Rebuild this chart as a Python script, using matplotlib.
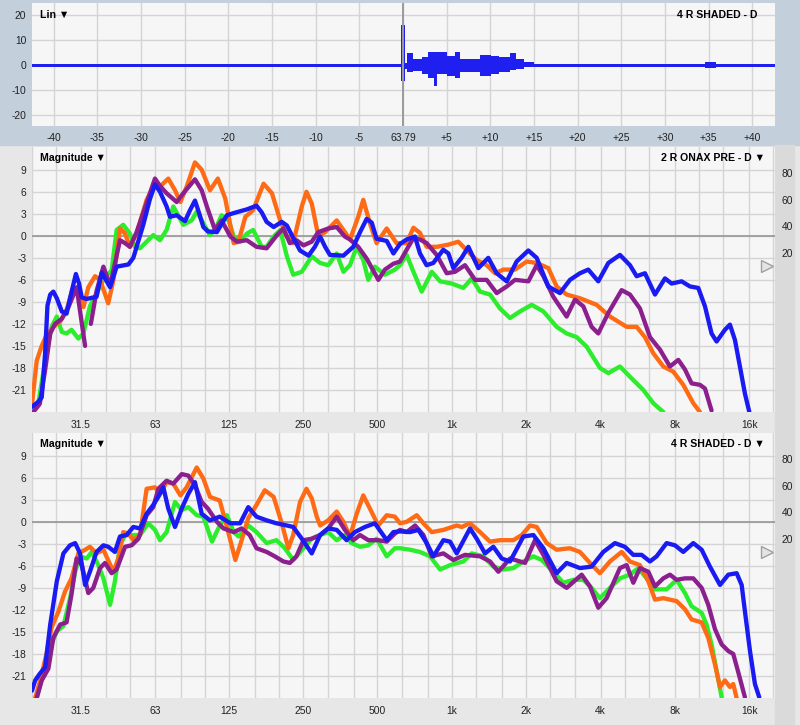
"""
Room measurement view: impulse response on top, two magnitude
responses (2 R ONAX PRE and 4 R SHADED) below, four mic positions each.
"""

import numpy as np
import matplotlib
matplotlib.use('Agg')
import matplotlib.pyplot as plt
from matplotlib.patches import Rectangle
from matplotlib.ticker import NullFormatter

plt.rcParams['font.family'] = ['Liberation Sans', 'DejaVu Sans']
plt.rcParams['axes.unicode_minus'] = False

# ---------------- impulse response (ms relative to 63.79 ms) ----------------
ir_edges = [-42.5, -0.25, 0.2, 0.45, 1.15, 2.2, 2.9, 3.5, 3.9, 5.0, 6.0, 6.5,
            8.8, 10.1, 11.0, 12.3, 12.9, 13.8, 15.0, 34.6, 35.8, 42.6]
ir_hi = [0.6, 16.0, 1.0, 4.8, 2.4, 3.0, 5.0, 5.0, 5.3, 3.7, 5.0, 2.4,
         4.0, 3.5, 3.0, 4.7, 2.2, 1.2, 0.6, 1.3, 0.6]
ir_lo = [-0.6, -6.3, -1.5, -2.9, -2.3, -3.6, -5.0, -8.3, -3.6, -4.3, -5.0, -2.9,
         -4.3, -3.6, -2.6, -2.0, -1.6, -0.9, -0.6, -1.2, -0.6]
time_ticks = [-40, -35, -30, -25, -20, -15, -10, -5, 0,
              5, 10, 15, 20, 25, 30, 35, 40]
time_labels = ['-40', '-35', '-30', '-25', '-20', '-15', '-10', '-5', '63.79',
               '+5', '+10', '+15', '+20', '+25', '+30', '+35', '+40']
ir_yticks = [-20, -10, 0, 10, 20]

# ---------------- frequency axis ----------------
third_oct = [20, 25, 31.5, 40, 50, 63, 80, 100, 125, 160, 200, 250, 315, 400,
             500, 630, 800, 1000, 1250, 1600, 2000, 2500, 3150, 4000, 5000,
             6300, 8000, 10000, 12500, 16000, 20000]
oct_ticks = [31.5, 63, 125, 250, 500, 1000, 2000, 4000, 8000, 16000]
oct_labels = ['31.5', '63', '125', '250', '500', '1k', '2k', '4k', '8k', '16k']
db_ticks = [9, 6, 3, 0, -3, -6, -9, -12, -15, -18, -21]
right_ticks = [20, 40, 60, 80]

# ---------------- 2 R ONAX PRE ----------------
onax_blue_f = [20, 21.2, 21.9, 22.6, 23.1, 23.7, 24.4, 25.2, 26.4, 27.6, 28.5,
               30.1, 31.0, 31.8, 33.3, 36.5, 38.3, 41.4, 44.0, 49.1, 51.4, 56.4,
               60.0, 62.9, 65.9, 70.1, 72.3, 77.0, 83.2, 87.2, 91.3, 95.1, 98.7,
               103, 112, 117, 123, 131, 148, 162, 170, 178, 190, 205, 215, 225,
               243, 263, 279, 293, 307, 321, 364, 399, 425, 452, 474, 496, 545,
               580, 617, 656, 709, 743, 790, 841, 923, 968, 1014, 1095, 1166,
               1280, 1404, 1518, 1667, 1828, 2039, 2204, 2455, 2737, 3005, 3297,
               3564, 3912, 4296, 4787, 5255, 5593, 6043, 6636, 7282, 7748, 8503,
               9196, 9933, 10570, 11240, 11780, 12730, 13340, 13980, 14640,
               15340, 15980]
onax_blue_db = [-23.3, -22.6, -22.0, -16.0, -9.5, -8.0, -7.6, -8.5, -10.3, -10.6,
                -8.5, -5.2, -6.5, -8.4, -8.6, -8.3, -5.0, -7.0, -4.2, -3.9, -3.0,
                1.5, 5.0, 7.0, 6.0, 4.0, 2.6, 2.8, 2.0, 3.5, 4.8, 3.0, 1.2, 0.6,
                0.5, 1.6, 2.8, 3.1, 3.6, 4.1, 3.2, 1.9, 1.2, 1.9, 1.4, 0.1, -2.0,
                -2.7, -1.5, -0.1, -1.5, -2.6, -2.7, -1.5, 0.5, 2.3, 1.8, -0.4,
                -0.7, -2.4, -1.1, -0.5, -0.1, -2.4, -4.0, -3.7, -1.9, -2.4, -4.4,
                -3.0, -1.5, -4.4, -3.0, -5.1, -6.2, -3.5, -2.0, -3.0, -6.9, -7.8,
                -6.0, -5.1, -4.6, -6.2, -3.7, -2.6, -4.0, -5.5, -5.1, -8.0, -5.8,
                -6.5, -6.2, -6.9, -7.1, -9.6, -13.3, -14.4, -12.8, -12.1, -14.2,
                -17.8, -21.5, -24.0]

onax_orange_f = [20, 20.9, 21.9, 22.9, 24.4, 26.0, 27.6, 29.4, 30.8, 32.3, 33.8,
                 36.0, 37.7, 40.7, 42.7, 45.4, 47.6, 49.8, 53.0, 58.2, 62.9, 65.9,
                 71.2, 75.8, 79.7, 84.5, 91.3, 97.2, 105, 113, 121, 131, 137, 146,
                 157, 173, 187, 202, 215, 228, 247, 258, 271, 288, 307, 342, 364,
                 387, 418, 438, 466, 496, 545, 597, 656, 699, 743, 791, 868, 968,
                 1062, 1166, 1260, 1383, 1495, 1616, 1801, 2008, 2204, 2457, 2654,
                 2913, 3297, 3852, 4362, 5095, 5593, 6043, 6532, 7170, 7868, 8636,
                 9479, 10090]
onax_orange_db = [-22.9, -17.0, -15.0, -13.5, -12.4, -11.7, -10.1, -7.0, -7.9,
                  -9.7, -7.0, -5.5, -6.0, -9.2, -6.0, 1.0, 0.3, -1.5, 0.3, 4.9,
                  7.1, 6.7, 7.8, 6.2, 4.6, 6.7, 10.0, 9.0, 6.2, 7.8, 5.1, -1.0,
                  -0.8, 2.6, 3.5, 7.1, 5.8, 2.1, -0.1, -1.0, 4.0, 6.0, 4.4, 0.0,
                  0.5, 2.1, 0.8, -0.5, 2.6, 4.9, 1.7, -1.0, 1.0, -1.0, -1.0, 1.1,
                  0.4, -1.5, -1.5, -1.2, -0.8, -2.2, -3.3, -4.0, -5.1, -4.6, -4.6,
                  -3.5, -3.7, -4.4, -6.9, -8.0, -8.5, -9.4, -11.0, -12.4, -12.4,
                  -13.8, -16.0, -17.8, -18.5, -20.3, -22.8, -24.0]

onax_purple_f = [20.25, 21.5, 22.6, 23.7, 24.8, 26.4, 28.1, 30.3, 32.8, 33.7,
                 34.6, 36.5, 38.9, 41.4, 45.4, 47.6, 49.8, 53.0, 58.2, 62.9, 65.9,
                 70.1, 77.0, 81.9, 91.3, 97.2, 102, 110, 117, 127, 135, 148, 162,
                 178, 195, 208, 221, 235, 251, 271, 288, 316, 342, 369, 387, 418,
                 452, 504, 536, 580, 617, 656, 699, 743, 791, 868, 953, 1030,
                 1130, 1241, 1383, 1518, 1667, 1801, 2040, 2204, 2346, 2573, 2913,
                 3148, 3402, 3677, 3912, 4296, 4863, 5255, 5768, 6332, 6950, 7628,
                 8245, 8771, 9333, 10090, 10570, 11240]
onax_purple_db = [-24.0, -22.9, -18.3, -13.3, -12.0, -11.3, -9.7, -7.0, -15.0,
                  np.nan, -12.0, -7.5, -4.2, -6.8, -0.6, -1.0, -1.5, 0.5, 4.5,
                  7.8, 6.8, 5.8, 4.6, 5.8, 7.7, 6.2, 4.0, 0.8, 2.1, -0.1, -0.8,
                  -0.6, -1.5, -1.7, 0.0, 1.0, -1.0, -0.6, -1.3, -0.8, 0.5, 1.0,
                  1.2, -0.1, -0.5, -1.5, -3.1, -6.0, -4.6, -3.8, -3.5, -1.9, -0.3,
                  -0.5, -1.0, -2.6, -5.1, -4.9, -4.0, -6.0, -6.0, -7.8, -6.9,
                  -6.0, -6.2, -4.0, -5.5, -8.3, -11.0, -8.7, -9.6, -12.4, -13.3,
                  -10.5, -7.4, -8.0, -9.9, -13.8, -15.5, -17.8, -16.9, -18.2,
                  -20.1, -20.3, -20.8, -23.8]

onax_green_f = [20.25, 21.2, 22.9, 24.0, 25.2, 26.4, 27.6, 28.9, 30.8, 32.3,
                34.3, 36.5, 38.9, 42.0, 44.0, 46.8, 49.8, 52.2, 54.7, 58.2, 61.9,
                65.9, 70.1, 74.6, 81.9, 88.5, 92.8, 98.7, 105, 110, 117, 125, 131,
                139, 148, 157, 170, 178, 190, 202, 215, 228, 247, 271, 293, 316,
                342, 364, 387, 412, 438, 459, 488, 536, 588, 617, 656, 699, 755,
                829, 896, 998, 1113, 1203, 1300, 1427, 1566, 1719, 1887, 2104,
                2346, 2654, 2913, 3198, 3509, 3973, 4296, 4787, 5255, 5951, 6532,
                7170]
onax_green_db = [-24.0, -22.8, -16.0, -12.4, -11.0, -13.1, -13.3, -12.8, -14.0,
                 -13.3, -9.6, -7.8, -6.0, -4.7, 0.8, 1.5, 0.3, -1.5, -1.7, -0.8,
                 0.1, -0.6, 0.8, 4.0, 1.5, 2.1, 3.3, 1.7, 0.1, 0.8, 2.8, 2.1,
                 -0.1, -0.8, 0.3, 0.8, -1.5, -1.5, -0.1, 0.8, -2.8, -5.3, -4.9,
                 -2.8, -3.7, -4.0, -2.4, -4.9, -4.0, -1.5, -3.3, -6.0, -4.2, -5.3,
                 -4.6, -4.0, -2.6, -4.9, -7.6, -4.9, -6.2, -6.5, -7.1, -5.8, -7.6,
                 -8.0, -9.9, -11.2, -10.3, -9.4, -10.3, -12.4, -13.3, -13.8,
                 -15.1, -18.0, -18.7, -17.8, -19.2, -21.0, -22.8, -24.0]

# ---------------- 4 R SHADED ----------------
shaded_blue_f = [20, 20.6, 21.5, 22.6, 23.7, 25.2, 26.8, 28.5, 29.9, 31.3, 32.8,
                 34.3, 36.5, 38.9, 40.7, 43.3, 45.4, 48.3, 51.4, 54.7, 58.2, 61.9,
                 64.9, 68.0, 71.2, 75.8, 80.7, 85.8, 91.3, 97.2, 105, 115, 127,
                 139, 150, 162, 178, 195, 215, 228, 247, 271, 293, 316, 342, 375,
                 405, 445, 488, 545, 580, 617, 677, 732, 791, 842, 924, 983, 1046,
                 1184, 1260, 1362, 1472, 1591, 1719, 1947, 2137, 2346, 2654, 2913,
                 3297, 3677, 4100, 4570, 5013, 5421, 5858, 6332, 6737, 7395, 7992,
                 8636, 9479, 10250, 11070, 12160, 13140, 14200, 14880, 15340,
                 16080, 16840, 17530]
shaded_blue_db = [-23.0, -21.6, -20.7, -19.8, -14.0, -8.1, -4.3, -3.2, -2.9, -4.3,
                  -8.6, -6.8, -4.1, -3.2, -3.4, -4.1, -2.0, -1.8, -0.7, -0.9, 1.1,
                  2.3, 3.4, 4.7, 1.8, -0.7, 1.8, 3.8, 5.4, 1.1, 0.2, 0.7, -0.2,
                  -0.2, 2.0, 0.7, 0.2, -0.2, -0.5, -0.7, -2.3, -4.3, -1.8, -0.9,
                  -1.1, -2.5, -1.4, -0.7, -0.2, -2.5, -1.4, -1.3, -1.4, -1.1, -2.9,
                  -4.7, -2.5, -2.7, -4.3, -0.9, -2.3, -4.3, -3.4, -5.0, -5.4, -2.0,
                  -1.8, -3.6, -7.0, -5.6, -6.3, -6.1, -4.1, -2.9, -3.4, -4.5, -4.5,
                  -5.4, -4.7, -2.9, -3.2, -4.1, -2.9, -3.8, -6.1, -8.6, -7.2, -7.0,
                  -8.6, -12.2, -17.6, -22.1, -23.9]

shaded_orange_f = [20.6, 21.5, 22.9, 24.0, 25.6, 27.2, 28.9, 30.8, 32.8, 34.3,
                   36.5, 38.9, 42.7, 44.7, 46.8, 49.1, 51.4, 54.7, 58.2, 62.9,
                   65.9, 70.1, 74.6, 79.7, 84.5, 92.8, 98.7, 105, 115, 123, 133,
                   139, 150, 162, 175, 190, 205, 218, 228, 243, 258, 271, 284, 293,
                   316, 342, 364, 387, 412, 438, 466, 504, 545, 588, 617, 656, 721,
                   767, 829, 924, 1046, 1096, 1184, 1300, 1427, 1566, 1774, 1917,
                   2072, 2204, 2420, 2654, 3005, 3297, 3620, 3973, 4362, 4863, 5255,
                   5768, 6236, 6636, 7170, 8115, 8771, 9333, 10250, 10900, 11600,
                   12160, 12730, 13340, 13760, 14200]
shaded_orange_db = [-24.0, -21.8, -18.0, -14.4, -12.2, -9.5, -7.7, -4.3, -3.8,
                    -3.4, -4.3, -3.8, -6.8, -5.0, -1.4, -1.6, -2.5, -1.8, 4.5, 4.7,
                    3.8, 5.4, 5.2, 3.6, 4.7, 7.4, 5.9, 3.4, 2.9, -0.7, -5.2, -3.2,
                    0.5, 2.3, 4.3, 3.4, -0.2, -3.6, -1.8, 2.7, 4.5, 3.2, 0.7, -0.5,
                    0.2, 1.4, 0.0, -2.0, 1.1, 3.6, 1.8, -0.5, 0.9, 0.7, -0.2, 0.0,
                    0.9, -0.2, -1.4, -1.1, -0.5, -0.7, -0.2, -1.4, -2.7, -2.5, -2.5,
                    -1.8, -0.5, -0.7, -2.9, -3.8, -3.6, -4.1, -5.6, -7.0, -5.4,
                    -4.1, -5.4, -5.9, -8.1, -10.6, -10.4, -10.8, -11.9, -13.3,
                    -13.7, -15.8, -19.4, -22.5, -21.6, -22.5, -22.1, -24.0]

shaded_purple_f = [20.9, 21.9, 23.3, 24.4, 26.0, 27.6, 28.9, 30.3, 31.8, 33.8,
                   35.4, 37.7, 39.5, 42.0, 44.0, 47.6, 50.6, 53.9, 58.2, 61.9,
                   64.9, 70.1, 74.6, 80.7, 85.8, 91.3, 97.2, 103, 112, 119, 131,
                   141, 152, 162, 178, 192, 208, 221, 235, 251, 271, 293, 316, 342,
                   369, 399, 425, 459, 504, 545, 588, 617, 656, 710, 767, 829, 924,
                   1014, 1130, 1300, 1427, 1542, 1719, 1977, 2170, 2346, 2654, 2913,
                   3351, 3620, 3912, 4228, 4787, 5095, 5421, 5768, 6236, 6636, 7170,
                   7628, 8115, 8771, 9479, 10250, 10900, 11600, 12350, 13140, 13760,
                   14420, 15340]
shaded_purple_db = [-24.0, -21.6, -20.0, -15.8, -14.0, -13.7, -9.9, -5.0, -5.9,
                    -9.7, -9.0, -6.3, -5.6, -7.0, -6.5, -3.4, -3.2, -2.3, 0.9, 2.0,
                    4.5, 5.6, 5.2, 6.5, 6.3, 5.0, 2.7, 1.8, 0.0, -0.9, -1.4, -0.9,
                    -1.8, -3.6, -4.1, -4.7, -5.4, -5.6, -4.7, -2.5, -2.3, -1.8,
                    -0.9, 0.7, -1.1, -2.5, -1.8, -2.5, -2.5, -2.7, -1.6, -1.1, -1.4,
                    -0.5, -1.8, -4.7, -4.3, -5.2, -4.5, -4.7, -5.4, -6.8, -5.0, -5.6,
                    -2.5, -4.5, -8.1, -9.0, -7.2, -8.8, -11.7, -10.4, -6.3, -5.9,
                    -8.3, -6.3, -6.8, -8.8, -7.7, -7.2, -7.9, -7.7, -7.7, -9.0,
                    -11.3, -14.6, -16.7, -17.6, -18.0, -20.5, -23.9]

shaded_green_f = [20.9, 22.2, 23.7, 25.2, 26.8, 28.5, 29.9, 31.3, 33.3, 34.9,
                  37.1, 38.9, 41.4, 43.3, 45.4, 47.6, 50.6, 54.7, 59.1, 62.9, 65.9,
                  70.1, 75.8, 80.7, 85.8, 92.8, 98.7, 107, 115, 123, 131, 137, 150,
                  162, 178, 195, 211, 228, 251, 271, 293, 316, 342, 369, 393, 425,
                  459, 496, 545, 588, 617, 677, 743, 816, 896, 983, 1113, 1203,
                  1341, 1472, 1616, 1774, 1947, 2137, 2309, 2573, 2824, 3100, 3402,
                  3677, 3973, 4362, 4787, 5255, 5680, 6138, 6636, 7395, 8115, 8771,
                  9333, 10250, 10730, 11240, 11780, 12350]
shaded_green_db = [-24.0, -20.7, -17.1, -14.9, -14.2, -10.4, -6.8, -4.7, -5.0,
                   -4.1, -5.9, -7.7, -11.3, -8.1, -3.2, -1.8, -1.8, -1.8, -0.2,
                   -1.1, -2.5, -1.4, 2.7, 1.6, 2.0, 0.9, 0.7, -2.7, -0.5, 0.9,
                   -1.4, -2.0, -0.5, -1.4, -2.9, -2.5, -3.6, -5.2, -3.6, -2.3, -1.8,
                   -1.4, -2.5, -1.8, -2.9, -3.4, -3.2, -2.3, -4.7, -3.6, -3.6, -3.8,
                   -4.1, -4.7, -6.5, -5.9, -5.4, -4.3, -4.7, -6.1, -6.5, -6.3, -5.4,
                   -4.7, -5.2, -6.8, -8.3, -7.9, -7.9, -9.0, -10.4, -9.0, -7.7,
                   -7.2, -6.3, -7.7, -9.2, -9.2, -7.9, -9.7, -11.5, -12.4, -14.0,
                   -16.7, -20.3, -23.9]

# colours of the four traces
GREEN = '#2ced2c'
ORANGE = '#ff6a14'
PURPLE = '#8c1f8e'
BLUE = '#1a1af2'

PLOT_BG = '#f6f6f6'
GRID = '#d4d4d4'
TICK_COLOR = '#222222'


def style_axes(ax):
    """Common look of every panel: light face, no spines, no tick marks."""
    ax.set_facecolor(PLOT_BG)
    for spine in ax.spines.values():
        spine.set_visible(False)
    ax.tick_params(length=0, labelsize=7.4, colors=TICK_COLOR)
    ax.set_axisbelow(True)


def draw_impulse(ax):
    """Impulse response panel (top)."""
    style_axes(ax)
    ax.stairs(ir_hi, ir_edges, baseline=ir_lo, fill=True, color='#1f1ff0',
              linewidth=0)
    ax.axvline(0, color='#9a9a9a', lw=1.4, zorder=3)
    ax.set_xlim(-42.5, 42.6)
    ax.set_ylim(-24.4, 24.8)
    ax.set_xticks(time_ticks, labels=time_labels)
    ax.set_yticks(ir_yticks)
    ax.tick_params(axis='x', pad=5)
    ax.tick_params(axis='y', pad=4)
    ax.grid(True, color=GRID, lw=1.0)
    ax.text(0.011, 0.90, 'Lin \u25BC', transform=ax.transAxes, fontsize=7.6,
            fontweight='bold', va='center', ha='left')
    ax.text(0.977, 0.90, '4 R SHADED - D', transform=ax.transAxes,
            fontsize=7.6, fontweight='bold', va='center', ha='right')


def draw_magnitude(ax, curves, title):
    """One magnitude panel with the four traces and a right-hand scale."""
    style_axes(ax)
    ax.set_xscale('log')
    ax.set_xlim(20, 20300)
    ax.set_ylim(-24.0, 12.1)
    ax.set_xticks(third_oct, minor=True)
    ax.xaxis.set_minor_formatter(NullFormatter())
    ax.set_xticks(oct_ticks, labels=oct_labels)
    ax.set_yticks(db_ticks)
    ax.tick_params(axis='x', which='both', length=0, pad=6)
    ax.tick_params(axis='y', pad=4)
    ax.grid(True, which='both', axis='x', color=GRID, lw=1.0)
    ax.grid(True, which='major', axis='y', color=GRID, lw=1.0)
    ax.axhline(0, color='#9c9c9c', lw=1.3, zorder=1.5)

    for freqs, levels, colour in curves:
        ax.plot(freqs, levels, color=colour, lw=3.1,
                solid_capstyle='round', solid_joinstyle='round', zorder=3)

    # right-hand scale
    ax2 = ax.twinx()
    for spine in ax2.spines.values():
        spine.set_visible(False)
    ax2.set_ylim(-99.25, 99.5)
    ax2.set_yticks(right_ticks)
    ax2.tick_params(length=0, labelsize=7.4, colors=TICK_COLOR, pad=5)

    ax.plot([0.989], [0.552], marker='>', ms=9, mfc='#e4e4e4', mec='#a0a0a0',
            mew=1.0, transform=ax.transAxes, clip_on=False, zorder=5)

    ax.text(0.011, 0.96, 'Magnitude \u25BC', transform=ax.transAxes,
            fontsize=7.6, fontweight='bold', va='center', ha='left')
    ax.text(0.9865, 0.96, title + ' \u25BC', transform=ax.transAxes,
            fontsize=7.6, fontweight='bold', va='center', ha='right')


def main():
    fig = plt.figure(figsize=(8, 7.25), dpi=100)
    fig.patch.set_facecolor('#e7e7e7')

    # blue-grey band behind the impulse panel, grey strip at the right
    fig.patches.append(Rectangle((0, 1 - 145 / 725), 1, 145 / 725,
                                 transform=fig.transFigure, color='#c4cfdc',
                                 zorder=-2))
    fig.patches.append(Rectangle((775 / 800, 0), 19 / 800, 1 - 145 / 725,
                                 transform=fig.transFigure, color='#dadada',
                                 zorder=-2))

    left, width = 32 / 800, 743 / 800
    ax_ir = fig.add_axes([left, 1 - 126 / 725, width, 123 / 725])
    ax_mid = fig.add_axes([left, 1 - 412 / 725, width, 265 / 725])
    ax_bot = fig.add_axes([left, 1 - 698 / 725, width, 265 / 725])

    draw_impulse(ax_ir)

    onax = [(onax_green_f, onax_green_db, GREEN),
            (onax_orange_f, onax_orange_db, ORANGE),
            (onax_purple_f, onax_purple_db, PURPLE),
            (onax_blue_f, onax_blue_db, BLUE)]
    shaded = [(shaded_green_f, shaded_green_db, GREEN),
              (shaded_orange_f, shaded_orange_db, ORANGE),
              (shaded_purple_f, shaded_purple_db, PURPLE),
              (shaded_blue_f, shaded_blue_db, BLUE)]

    draw_magnitude(ax_mid, onax, '2 R ONAX PRE - D')
    draw_magnitude(ax_bot, shaded, '4 R SHADED - D')

    fig.savefig('out.png', dpi=100, facecolor=fig.get_facecolor())


if __name__ == "__main__":
    main()
